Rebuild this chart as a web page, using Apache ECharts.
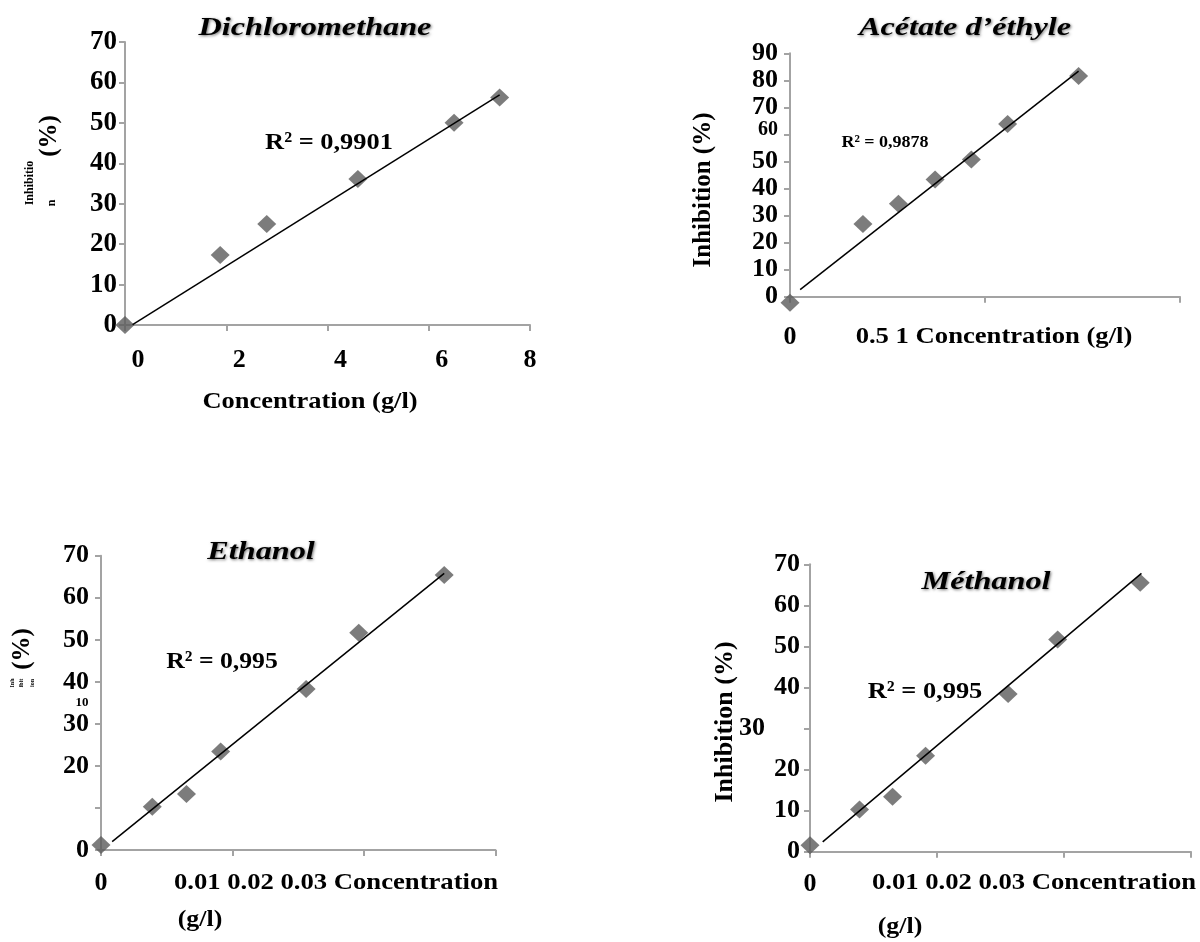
<!DOCTYPE html>
<html>
<head>
<meta charset="utf-8">
<script src="https://cdn.jsdelivr.net/npm/echarts@6/dist/echarts.min.js"></script>
<style>
  html, body { margin: 0; padding: 0; background: #fff; }
  #chart { width: 1200px; height: 942px; }
</style>
</head>
<body>
<div id="chart"></div>
<script>
// Dichloromethane
var dcmX = [0, 1.88, 2.8, 4.6, 6.5, 7.4];
var dcmY = [0, 17.3, 25.0, 36.1, 50.0, 56.3];
var dcmFitX = [0.15, 7.4];
var dcmFitY = [0.1, 56.9];

// Acétate d'éthyle
var aceX = [0, 0.187, 0.278, 0.372, 0.465, 0.558, 0.74];
var aceY = [-2.2, 26.9, 34.4, 43.3, 50.7, 63.9, 81.6];
var aceFitX = [0.026, 0.74];
var aceFitY = [2.6, 83.4];

// Ethanol
var ethX = [0, 0.0039, 0.0065, 0.0091, 0.0156, 0.0196, 0.0261];
var ethY = [1.2, 10.3, 13.3, 23.4, 38.3, 51.7, 65.4];
var ethFitX = [0.00085, 0.0261];
var ethFitY = [2.0, 65.8];

// Méthanol
var metX = [0, 0.0039, 0.0065, 0.0091, 0.0156, 0.0195, 0.026];
var metY = [1.6, 10.3, 13.4, 23.4, 38.4, 51.7, 65.5];
var metFitX = [0.001, 0.0261];
var metFitY = [2.4, 67.8];

var titles = ["Dichloromethane", "Acétate d’éthyle", "Ethanol", "Méthanol"];
var r2Labels = ["R² = 0,9901", "R² = 0,9878", "R² = 0,995", "R² = 0,995"];
var dcmXText = "Concentration (g/l)";
var aceXText = "0.5 1 Concentration (g/l)";
var alcXText = "0.01 0.02 0.03 Concentration";
var unitText = "(g/l)";
var yText = "Inhibition (%)";

var serif = "'Liberation Serif', 'DejaVu Serif', serif";
var axisGray = "#a3a3a3";
var markColor = "#5b5b5b";

function pairs(xs, ys) {
  return xs.map(function (x, i) { return [x, ys[i]]; });
}

function xAxisOf(idx, max, interval, margin, fmt, rich) {
  return {
    gridIndex: idx, type: "value", min: 0, max: max, interval: interval,
    axisLine: { show: true, onZero: false, lineStyle: { color: axisGray, width: 2 } },
    axisTick: { show: true, length: 6, lineStyle: { color: axisGray, width: 2 } },
    splitLine: { show: false },
    axisLabel: {
      show: true, margin: margin, color: "#000", fontFamily: serif,
      fontWeight: "bold", fontSize: 26, formatter: fmt, rich: rich || {},
      showMinLabel: true, showMaxLabel: true
    }
  };
}

function yAxisOf(idx, max, margin, size, fmt, rich) {
  return {
    gridIndex: idx, type: "value", min: 0, max: max, interval: 10,
    axisLine: { show: true, onZero: false, lineStyle: { color: axisGray, width: 2 } },
    axisTick: { show: true, length: 6, lineStyle: { color: axisGray, width: 2 } },
    splitLine: { show: false },
    axisLabel: {
      show: true, margin: margin, color: "#000", fontFamily: serif,
      fontWeight: "bold", fontSize: size, formatter: fmt, rich: rich || {},
      showMinLabel: true, showMaxLabel: true
    }
  };
}

function onlyZero(v) { return v === 0 ? "0" : ""; }

function scatter(idx, data) {
  return {
    type: "scatter", xAxisIndex: idx, yAxisIndex: idx, data: data,
    symbol: "diamond", symbolSize: [19, 18], clip: false, z: 3,
    itemStyle: { color: markColor }
  };
}

function fit(idx, data) {
  return {
    type: "line", xAxisIndex: idx, yAxisIndex: idx, data: data,
    symbol: "none", clip: false, z: 4, silent: true,
    lineStyle: { color: "#000", width: 1.5 }
  };
}

function txt(text, x, y, size, opts) {
  opts = opts || {};
  return {
    type: "text", x: x, y: y, rotation: opts.rot || 0, z: 10,
    scaleX: opts.sx || 1,
    style: {
      text: text, fill: "#000", align: "center", verticalAlign: "middle",
      font: (opts.italic ? "italic " : "") + "bold " + size + "px " + serif,
      textShadowColor: opts.shadow ? "rgba(0,0,0,0.55)" : "transparent",
      textShadowBlur: opts.shadow ? 3 : 0,
      textShadowOffsetX: opts.shadow ? 1 : 0,
      textShadowOffsetY: opts.shadow ? 1 : 0
    }
  };
}

var chart = echarts.init(document.getElementById("chart"));
var rot = Math.PI / 2;
var title = { italic: true, shadow: true, sx: 1.24 };

var option = {
  animation: false,
  backgroundColor: "#fff",
  grid: [
    { left: 125, top: 42, width: 405, height: 283 },
    { left: 790, top: 53.3, width: 390, height: 243.4 },
    { left: 101, top: 555.7, width: 394.5, height: 294.3 },
    { left: 810, top: 564.3, width: 381, height: 287.4 }
  ],
  xAxis: [
    xAxisOf(0, 8, 2, 22, function (v) { return v === 8 ? "8" : "{r|" + v + "}"; },
      { r: { fontSize: 26, fontWeight: "bold", fontFamily: serif, padding: [0, 0, 0, 26] } }),
    xAxisOf(1, 1, 0.5, 28, onlyZero),
    xAxisOf(2, 0.03, 0.01, 20, onlyZero),
    xAxisOf(3, 0.03, 0.01, 20, onlyZero)
  ],
  yAxis: [
    yAxisOf(0, 70, 8, 27),
    yAxisOf(1, 90, 12, 26, function (v) { return v === 60 ? "{sm|60}" : String(v); },
      { sm: { fontSize: 20, fontWeight: "bold", fontFamily: serif, padding: [0, 0, 10, 0] } }),
    yAxisOf(2, 70, 12, 26, function (v) { return v === 10 ? "" : String(v); }),
    yAxisOf(3, 70, 10, 26, function (v) { return v === 30 ? "{sh|30}" : String(v); },
      { sh: { fontSize: 26, fontWeight: "bold", fontFamily: serif, padding: [0, 35, 0, 0] } })
  ],
  series: [
    scatter(0, pairs(dcmX, dcmY)), fit(0, pairs(dcmFitX, dcmFitY)),
    scatter(1, pairs(aceX, aceY)), fit(1, pairs(aceFitX, aceFitY)),
    scatter(2, pairs(ethX, ethY)), fit(2, pairs(ethFitX, ethFitY)),
    scatter(3, pairs(metX, metY)), fit(3, pairs(metFitX, metFitY))
  ],
  graphic: [
    // titres
    txt(titles[0], 315, 28, 26, title),
    txt(titles[1], 965, 28, 26, title),
    txt(titles[2], 261, 552, 26, title),
    txt(titles[3], 986, 582, 26, title),
    // R²
    txt(r2Labels[0], 329, 143, 24, { sx: 1.1 }),
    txt(r2Labels[1], 885, 143, 17, { sx: 1.06 }),
    txt(r2Labels[2], 222, 662, 24, { sx: 1.07 }),
    txt(r2Labels[3], 925, 692, 24, { sx: 1.1 }),
    // axes x
    txt(dcmXText, 310, 402, 23, { sx: 1.15 }),
    txt(aceXText, 994, 337, 24, { sx: 1.11 }),
    txt(alcXText, 336, 883, 24, { sx: 1.11 }),
    txt(unitText, 200, 920, 24, { sx: 1.08 }),
    txt(alcXText, 1034, 883, 24, { sx: 1.11 }),
    txt(unitText, 900, 927, 24, { sx: 1.08 }),
    // axes y
    txt("(%)", 50, 136, 25, { rot: rot }),
    txt("Inhibitio", 30, 183, 12, { rot: rot }),
    txt("n", 52, 203, 12, { rot: rot }),
    txt(yText, 704, 190, 25, { rot: rot }),
    txt("(%)", 23, 649, 25, { rot: rot }),
    txt("Inh", 12, 683, 6, { rot: rot }),
    txt("ibit", 21, 683, 6, { rot: rot }),
    txt("ion", 32, 683, 6, { rot: rot }),
    txt("10", 82, 703, 13),
    txt(yText, 725, 722, 26, { rot: rot })
  ]
};

chart.setOption(option);
</script>
</body>
</html>
